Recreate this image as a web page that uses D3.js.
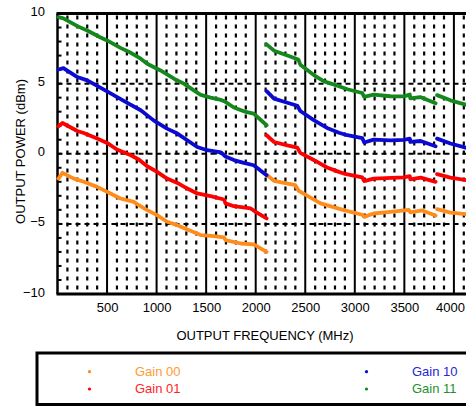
<!DOCTYPE html>
<html>
<head>
<meta charset="utf-8">
<script src="https://cdn.jsdelivr.net/npm/d3@7"></script>
<style>
  html, body { margin: 0; padding: 0; background: #fff; }
  svg { display: block; font-family: "Liberation Sans", Arial, sans-serif; }
</style>
</head>
<body>
<svg id="chart" width="466" height="406"></svg>
<script>
// ---- data (null separates line segments) ----
const gain00 = [[10,-1.77],[50,-1.36],[165,-1.77],[265,-2.0],[400,-2.36],[535,-2.83],[635,-3.19],[770,-3.43],[820,-3.67],[905,-4.02],[1005,-4.38],[1105,-4.85],[1210,-5.09],[1310,-5.40],[1410,-5.68],[1445,-5.8],[1580,-5.87],[1680,-5.97],[1695,-6.16],[1850,-6.4],[1980,-6.46],[2110,-6.99],
  null,
  [2110,-1.5],[2185,-1.93],[2400,-2.24],[2435,-2.65],[2655,-3.54],[2890,-4.02],[3075,-4.35],[3095,-4.5],[3190,-4.26],[3360,-4.14],[3545,-4.0],[3560,-4.18],[3680,-4.04],[3815,-4.4],
  null,
  [3830,-3.95],[3965,-4.2],[4140,-4.31]];
const gain01 = [[10,1.96],[50,2.19],[200,1.62],[265,1.48],[400,1.08],[500,0.77],[600,0.30],[740,-0.11],[820,-0.41],[905,-0.89],[1005,-1.29],[1105,-1.77],[1210,-2.08],[1310,-2.48],[1410,-2.83],[1545,-3.02],[1680,-3.26],[1695,-3.54],[1780,-3.74],[1950,-3.90],[2000,-4.14],[2110,-4.61],
  null,
  [2110,1.32],[2185,0.84],[2320,0.60],[2420,0.44],[2450,0.06],[2590,-0.46],[2720,-0.98],[2840,-1.29],[2890,-1.41],[3075,-1.69],[3095,-1.95],[3190,-1.77],[3495,-1.69],[3555,-1.6],[3560,-1.82],[3665,-1.7],[3815,-2.0],
  null,
  [3830,-1.45],[3965,-1.7],[4140,-1.9]];
const gain10 = [[10,6.01],[60,6.11],[200,5.47],[300,5.23],[500,4.45],[700,3.64],[840,3.10],[970,2.38],[1105,1.79],[1210,1.44],[1410,0.48],[1510,0.25],[1650,0.1],[1695,-0.2],[1780,-0.45],[1880,-0.65],[1980,-0.82],[2110,-1.53],
  null,
  [2110,4.46],[2185,3.93],[2320,3.64],[2420,3.42],[2450,3.05],[2590,2.38],[2720,1.84],[2840,1.5],[2925,1.32],[3075,1.12],[3095,0.8],[3190,1.01],[3360,0.96],[3495,0.99],[3555,1.08],[3560,0.84],[3665,0.91],[3815,0.53],
  null,
  [3830,1.08],[3965,0.73],[4140,0.4]];
const gain11 = [[10,9.74],[60,9.65],[200,9.1],[300,8.79],[430,8.31],[500,8.08],[640,7.53],[740,7.2],[840,6.78],[905,6.42],[1040,5.94],[1175,5.35],[1275,5.0],[1410,4.36],[1445,4.2],[1545,4.0],[1650,3.84],[1690,3.72],[1780,3.3],[1900,2.98],[1980,2.86],[2110,2.03],
  null,
  [2110,7.8],[2185,7.35],[2320,7.01],[2430,6.72],[2450,6.35],[2590,5.59],[2690,5.16],[2760,5.0],[2825,4.85],[2925,4.6],[3075,4.33],[3095,4.05],[3190,4.21],[3360,4.1],[3495,4.09],[3555,4.22],[3560,3.95],[3660,4.04],[3815,3.6],
  null,
  [3830,4.18],[3965,3.81],[4140,3.45]];

const seriesNames = ["Gain 00", "Gain 01", "Gain 10", "Gain 11"];
const seriesColors = ["#ff8c1a", "#ff0000", "#0a0ad2", "#14881c"];
const legendTextColors = ["#ff9a33", "#ff2424", "#2626d6", "#1f8f30"];
const xTicks = [500, 1000, 1500, 2000, 2500, 3000, 3500, 4000];
const yTicks = [10, 5, 0, -5, -10];

// ---- layout ----
const svg = d3.select("#chart");
const W = 466;
const pLeft = 57.5, pTop = 13.5, pBottom = 294;
const x = d3.scaleLinear().domain([0, 4400]).range([pLeft, pLeft + 4400 * 0.0991]);
const y = d3.scaleLinear().domain([-10, 10]).range([pBottom, pTop]);
const FS = 13;

const g = svg.append("g");

// minor vertical dotted grid (every 100 MHz)
const minor = d3.range(100, 4400, 100).filter(v => v % 500 !== 0);
g.selectAll(".vminor").data(minor).enter().append("line")
  .attr("x1", d => x(d)).attr("x2", d => x(d))
  .attr("y1", pTop).attr("y2", pBottom)
  .attr("stroke", "#000").attr("stroke-width", 2.2)
  .attr("stroke-dasharray", "4,5").attr("stroke-dashoffset", -2);

// major vertical solid grid
g.selectAll(".vmajor").data(d3.range(500, 4400, 500)).enter().append("line")
  .attr("x1", d => x(d)).attr("x2", d => x(d))
  .attr("y1", pTop).attr("y2", pBottom)
  .attr("stroke", "#000").attr("stroke-width", 2);

// horizontal dashed grid
g.selectAll(".hgrid").data([5, 0, -5]).enter().append("line")
  .attr("x1", pLeft).attr("x2", W)
  .attr("y1", d => y(d)).attr("y2", d => y(d))
  .attr("stroke", "#000").attr("stroke-width", 2)
  .attr("stroke-dasharray", "5,4");

// small inner y ticks every 1 dBm
g.selectAll(".ytick").data(d3.range(-9, 10)).enter().append("line")
  .attr("x1", pLeft).attr("x2", pLeft + 4)
  .attr("y1", d => y(d)).attr("y2", d => y(d))
  .attr("stroke", "#000").attr("stroke-width", 2);

// frame
g.append("line").attr("x1", pLeft - 1).attr("x2", W).attr("y1", pTop).attr("y2", pTop)
  .attr("stroke", "#000").attr("stroke-width", 3);
g.append("line").attr("x1", pLeft - 1).attr("x2", W).attr("y1", pBottom).attr("y2", pBottom)
  .attr("stroke", "#000").attr("stroke-width", 3);
g.append("line").attr("x1", pLeft).attr("x2", pLeft).attr("y1", pTop).attr("y2", pBottom)
  .attr("stroke", "#000").attr("stroke-width", 2.5);

// ---- series lines ----
const line = d3.line()
  .defined(d => d !== null)
  .x(d => x(d[0])).y(d => y(d[1]));
const allSeries = [gain00, gain01, gain10, gain11];
allSeries.forEach((s, i) => {
  g.append("path").datum(s)
    .attr("d", line)
    .attr("fill", "none")
    .attr("stroke", seriesColors[i])
    .attr("stroke-width", 3.8)
    .attr("stroke-linejoin", "round")
    .attr("stroke-linecap", "round");
});

// ---- axes labels ----
const xAxis = d3.axisBottom(x).tickValues(xTicks).tickFormat(d3.format("d")).tickSize(0).tickPadding(0);
const xa = svg.append("g").attr("transform", `translate(0,${pBottom})`).call(xAxis);
xa.select(".domain").remove();
xa.selectAll("text").attr("font-size", FS).attr("fill", "#000")
  .attr("font-family", "Liberation Sans, Arial, sans-serif")
  .attr("dy", null).attr("y", 18);
// keep the last label inside the picture
xa.selectAll("text").each(function() {
  const t = d3.select(this);
  const bb = this.getBBox();
  const tr = this.parentNode.getAttribute("transform");
  const tx = +tr.match(/translate\(([-\d.]+)/)[1];
  const right = tx + bb.x + bb.width;
  if (right > W - 1) t.attr("x", (W - 1) - right);
});

const yAxis = d3.axisLeft(y).tickValues(yTicks).tickFormat(d3.format("d")).tickSize(0).tickPadding(0);
const ya = svg.append("g").attr("transform", `translate(45,0)`).call(yAxis);
ya.select(".domain").remove();
ya.selectAll("text").attr("font-size", FS).attr("fill", "#000")
  .attr("font-family", "Liberation Sans, Arial, sans-serif")
  .attr("x", 0).attr("dy", "0.0em").attr("y", 2);

svg.append("text").attr("x", 265).attr("y", 340)
  .attr("text-anchor", "middle").attr("font-size", FS).attr("fill", "#000")
  .text("OUTPUT FREQUENCY (MHz)");
svg.append("text").attr("transform", "translate(25,151.5) rotate(-90)")
  .attr("text-anchor", "middle").attr("font-size", FS).attr("fill", "#000")
  .text("OUTPUT POWER (dBm)");

// ---- legend ----
svg.append("rect").attr("x", 37).attr("y", 353).attr("width", 460).attr("height", 51.5)
  .attr("fill", "none").attr("stroke", "#000").attr("stroke-width", 3);
const legPos = [[89.5, 371.7], [89.5, 389], [366.5, 371.7], [366.5, 389]];
seriesNames.forEach((name, i) => {
  svg.append("circle").attr("cx", legPos[i][0]).attr("cy", legPos[i][1]).attr("r", 1.6)
    .attr("fill", seriesColors[i]);
  svg.append("text").attr("x", legPos[i][0] + 45.5).attr("y", legPos[i][1] + 4.3)
    .attr("font-size", FS).attr("fill", legendTextColors[i]).text(name);
});
</script>
</body>
</html>
